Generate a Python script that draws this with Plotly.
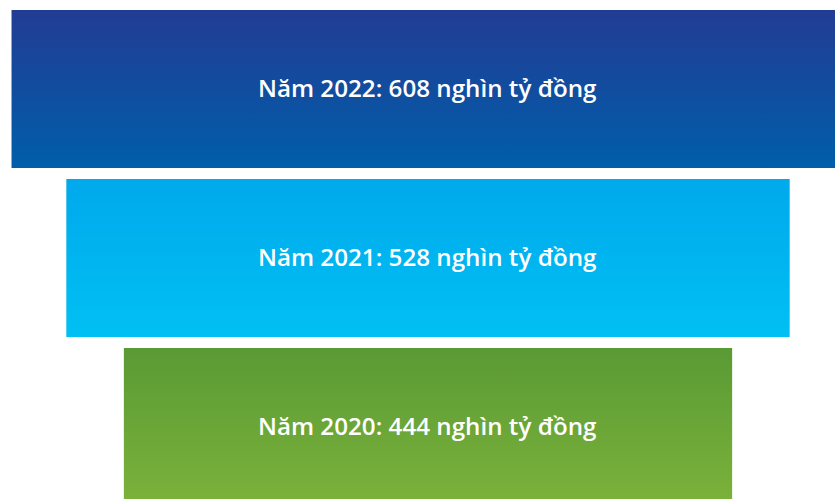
import plotly.graph_objects as go

# Revenue by year (thousand billion VND), top row first
years = ["2022", "2021", "2020"]
values = [608, 528, 444]
top_colors = ["#223C94", "#00A9EC", "#5A9A35"]
bottom_colors = ["#005EAA", "#00C0F3", "#7BB23A"]

HALF_H = 0.4675  # half bar thickness in row units

fig = go.Figure()

for row, (year, val, c0, c1) in enumerate(zip(years, values, top_colors, bottom_colors)):
    half_w = val / 2
    y_top, y_bot = row - HALF_H, row + HALF_H
    fig.add_trace(go.Scatter(
        x=[-half_w, half_w, half_w, -half_w, -half_w],
        y=[y_top, y_top, y_bot, y_bot, y_top],
        mode="lines",
        line=dict(width=0),
        fill="toself",
        fillgradient=dict(
            type="vertical",
            start=y_top,
            stop=y_bot,
            colorscale=[[0, c0], [1, c1]],
        ),
        hoverinfo="skip",
        showlegend=False,
    ))

# Centered value labels on each bar
for row, (year, val) in enumerate(zip(years, values)):
    fig.add_annotation(
        x=0, y=row, xref="x", yref="y",
        text=f"Năm {year}: {val} nghìn tỷ đồng",
        showarrow=False,
        xanchor="center", yanchor="middle",
        xshift=-1, yshift=2,
        font=dict(family="Open Sans", size=24.2, color="white", weight=600),
    )

PX_PER_UNIT = 1.37
CENTER_PX = 428
ROW_PX = 169
FIRST_ROW_PX = 89
W, H = 835, 499

fig.update_layout(
    width=W,
    height=H,
    margin=dict(l=0, r=0, t=0, b=0),
    paper_bgcolor="white",
    plot_bgcolor="white",
    hovermode=False,
    xaxis=dict(
        range=[-CENTER_PX / PX_PER_UNIT, (W - CENTER_PX) / PX_PER_UNIT],
        visible=False,
        fixedrange=True,
    ),
    yaxis=dict(
        range=[(H - FIRST_ROW_PX) / ROW_PX, -FIRST_ROW_PX / ROW_PX],
        visible=False,
        fixedrange=True,
    ),
)

fig.write_html("out.html", config={"displayModeBar": False})
